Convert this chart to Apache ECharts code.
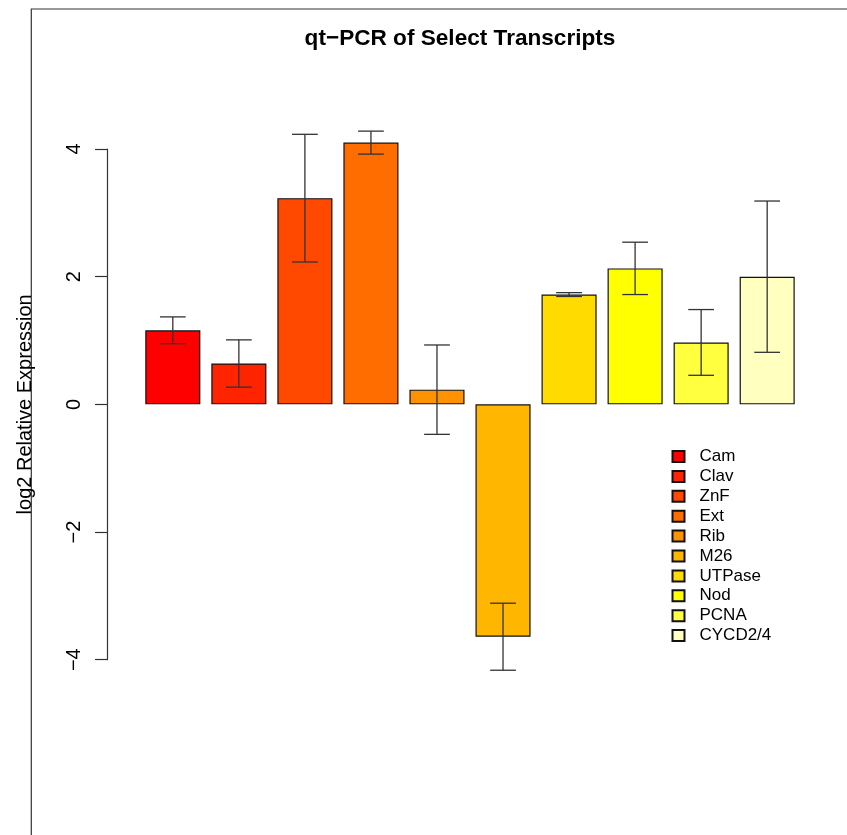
<!DOCTYPE html>
<html>
<head>
<meta charset="utf-8">
<script src="https://cdn.jsdelivr.net/npm/echarts@6/dist/echarts.min.js"></script>
<style>
html,body{margin:0;padding:0;background:#fff;}
#chart{width:847px;height:835px;}
</style>
</head>
<body>
<div id="chart"></div>
<script>
// ---- data ----
const categories = ['Cam','Clav','ZnF','Ext','Rib','M26','UTPase','Nod','PCNA','CYCD2/4'];
const values = [1.16, 0.64, 3.23, 4.10, 0.23, -3.64, 1.72, 2.13, 0.97, 2.00];
const errors = [0.21, 0.37, 1.00, 0.18, 0.70, 0.525, 0.03, 0.41, 0.515, 1.185];
const colors = ['#FF0000','#FF2400','#FF4900','#FF6D00','#FF9200','#FFB600','#FFDB00','#FFFF00','#FFFF40','#FFFFBF'];
const yTicks = [-4, -2, 0, 2, 4];

const FONT = '"Liberation Sans", Arial, Helvetica, sans-serif';
const chart = echarts.init(document.getElementById('chart'));

const barSeries = categories.map((name, i) => ({
  name: name,
  type: 'bar',
  barGap: '-100%',
  barCategoryGap: '16.6%',
  clip: false,
  z: 2,
  itemStyle: { color: colors[i], borderColor: '#111', borderWidth: 1.2 },
  emphasis: { disabled: true },
  data: values.map((v, j) => (j === i ? v : '-'))
}));

const errData = values.map((v, i) => [i, v - errors[i], v + errors[i]]);

const errSeries = {
  type: 'custom',
  clip: false,
  silent: true,
  z: 5,
  data: errData,
  encode: { x: 0, y: [1, 2] },
  renderItem: function (params, api) {
    const x = api.value(0);
    const lo = api.coord([x, api.value(1)]);
    const hi = api.coord([x, api.value(2)]);
    const half = api.size([1, 0])[0] * 0.195;
    const st = { stroke: '#333', lineWidth: 1.3, fill: null };
    return {
      type: 'group',
      children: [
        { type: 'line', shape: { x1: lo[0], y1: lo[1], x2: hi[0], y2: hi[1] }, style: st },
        { type: 'line', shape: { x1: lo[0] - half, y1: lo[1], x2: lo[0] + half, y2: lo[1] }, style: st },
        { type: 'line', shape: { x1: hi[0] - half, y1: hi[1], x2: hi[0] + half, y2: hi[1] }, style: st }
      ]
    };
  }
};

chart.setOption({
  animation: false,
  backgroundColor: '#fff',
  textStyle: { fontFamily: FONT },
  title: {
    text: 'qt\u2212PCR of Select Transcripts',
    left: 455, top: 22, textAlign: 'center',
    textStyle: { fontFamily: FONT, fontWeight: 'bold', fontSize: 22.6, color: '#000' }
  },
  legend: {
    orient: 'vertical',
    left: 671.5, top: 448,
    padding: 0,
    itemWidth: 12, itemHeight: 11, itemGap: 2.9,
    icon: 'rect',
    selectedMode: false,
    data: categories,
    textStyle: { fontFamily: FONT, fontSize: 17, lineHeight: 17, color: '#000', padding: [0, 0, 0, 10] }
  },
  grid: { left: 139.8, width: 660.4, top: 149, height: 510.7, containLabel: false },
  xAxis: {
    type: 'category',
    data: categories,
    show: false
  },
  yAxis: {
    type: 'value',
    min: yTicks[0], max: yTicks[yTicks.length - 1], interval: 2,
    offset: 32.8,
    name: 'log2 Relative Expression',
    nameLocation: 'middle',
    nameRotate: 90,
    nameGap: 72,
    nameTextStyle: { fontFamily: FONT, fontSize: 20, color: '#000' },
    axisLine: { show: true, lineStyle: { color: '#333', width: 1.2 } },
    axisTick: { show: true, length: 12, lineStyle: { color: '#333', width: 1.2 } },
    axisLabel: {
      rotate: 90, margin: 23, fontSize: 20, color: '#000', fontFamily: FONT,
      formatter: v => String(v).replace('-', '\u2212')
    },
    splitLine: { show: false }
  },
  graphic: [{
    type: 'rect',
    shape: { x: 31.3, y: 9, width: 1000, height: 1000 },
    style: { fill: null, stroke: '#333', lineWidth: 1.2 },
    silent: true
  }],
  series: barSeries.concat([errSeries])
});
</script>
</body>
</html>
